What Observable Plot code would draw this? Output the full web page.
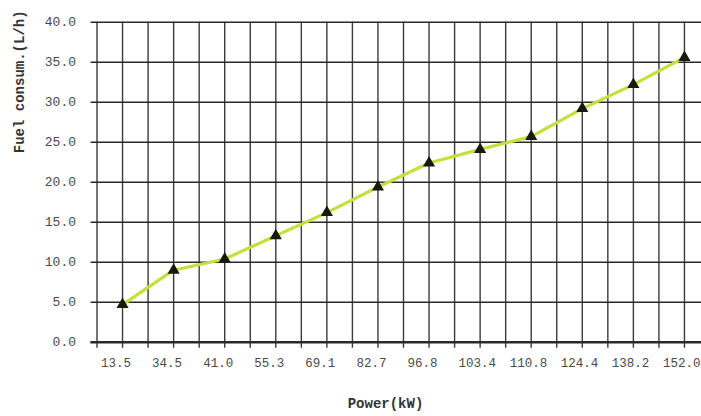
<!DOCTYPE html>
<html>
<head>
<meta charset="utf-8">
<script src="https://cdn.jsdelivr.net/npm/d3@7"></script>
<script src="https://cdn.jsdelivr.net/npm/@observablehq/plot@0.6"></script>
<style>
  html, body { margin: 0; padding: 0; background: #fff; }
  #chart { width: 701px; height: 416px; overflow: hidden; }
</style>
</head>
<body>
<div id="chart"></div>
<script>
const powerLabels = ["13.5", "34.5", "41.0", "55.3", "69.1", "82.7", "96.8", "103.4", "110.8", "124.4", "138.2", "152.0"];
const fuelValues = [4.7, 9.0, 10.4, 13.3, 16.2, 19.4, 22.4, 24.1, 25.7, 29.2, 32.2, 35.6];
const yTicks = [0, 5, 10, 15, 20, 25, 30, 35, 40];
const xTitle = "Power(kW)";
const yTitle = "Fuel consum.(L/h)";

const data = powerLabels.map((p, i) => ({i, power: p, fuel: fuelValues[i]}));
const gridX = powerLabels.flatMap((_, i) => [i - 0.5, i]);

const font = "'Liberation Mono', 'DejaVu Sans Mono', monospace";

const chart = Plot.plot({
  width: 701,
  height: 416,
  marginLeft: 96.5,
  marginRight: -8.5,
  marginTop: 21.7,
  marginBottom: 74.3,
  style: {background: "#fff", fontFamily: font},
  x: {type: "linear", domain: [-0.5, powerLabels.length - 0.5], axis: null},
  y: {domain: [0, 40], axis: null},
  marks: [
    Plot.ruleX(gridX, {x: d => d, stroke: "#3a3a3a", strokeWidth: 1.4, insetBottom: -6}),
    Plot.ruleY(yTicks, {y: d => d, stroke: "#2a2a2a", strokeWidth: 1.6, insetLeft: -6}),
    Plot.ruleY([0], {stroke: "#2a2a2a", strokeWidth: 2.4, insetLeft: -6}),
    Plot.line(data, {x: "i", y: "fuel", stroke: "#c6df3c", strokeWidth: 3.2}),
    Plot.dot(data, {x: "i", y: "fuel", symbol: "triangle", fill: "#151a0a", stroke: "none", r: 4.5}),
    Plot.text(data, {x: d => d.i - 0.5, y: 0, text: "power", dx: 4, dy: 21, textAnchor: "start",
      fontSize: 12.5, fill: "#4a4a4a", fontFamily: font}),
    Plot.text(yTicks, {x: -0.5, y: d => d, text: d => d.toFixed(1), dx: -21, textAnchor: "end",
      fontSize: 13, fill: "#4a4a4a", fontFamily: font}),
    Plot.text([xTitle], {frameAnchor: "bottom", text: d => d, dx: -18, dy: 66,
      fontSize: 14, fontWeight: "bold", fill: "#333", fontFamily: font}),
    Plot.text([yTitle], {frameAnchor: "left", text: d => d, rotate: -90, dx: -77, dy: -29,
      fontSize: 14, fontWeight: "bold", fill: "#333", fontFamily: font})
  ]
});
document.getElementById("chart").appendChild(chart);
</script>
</body>
</html>
